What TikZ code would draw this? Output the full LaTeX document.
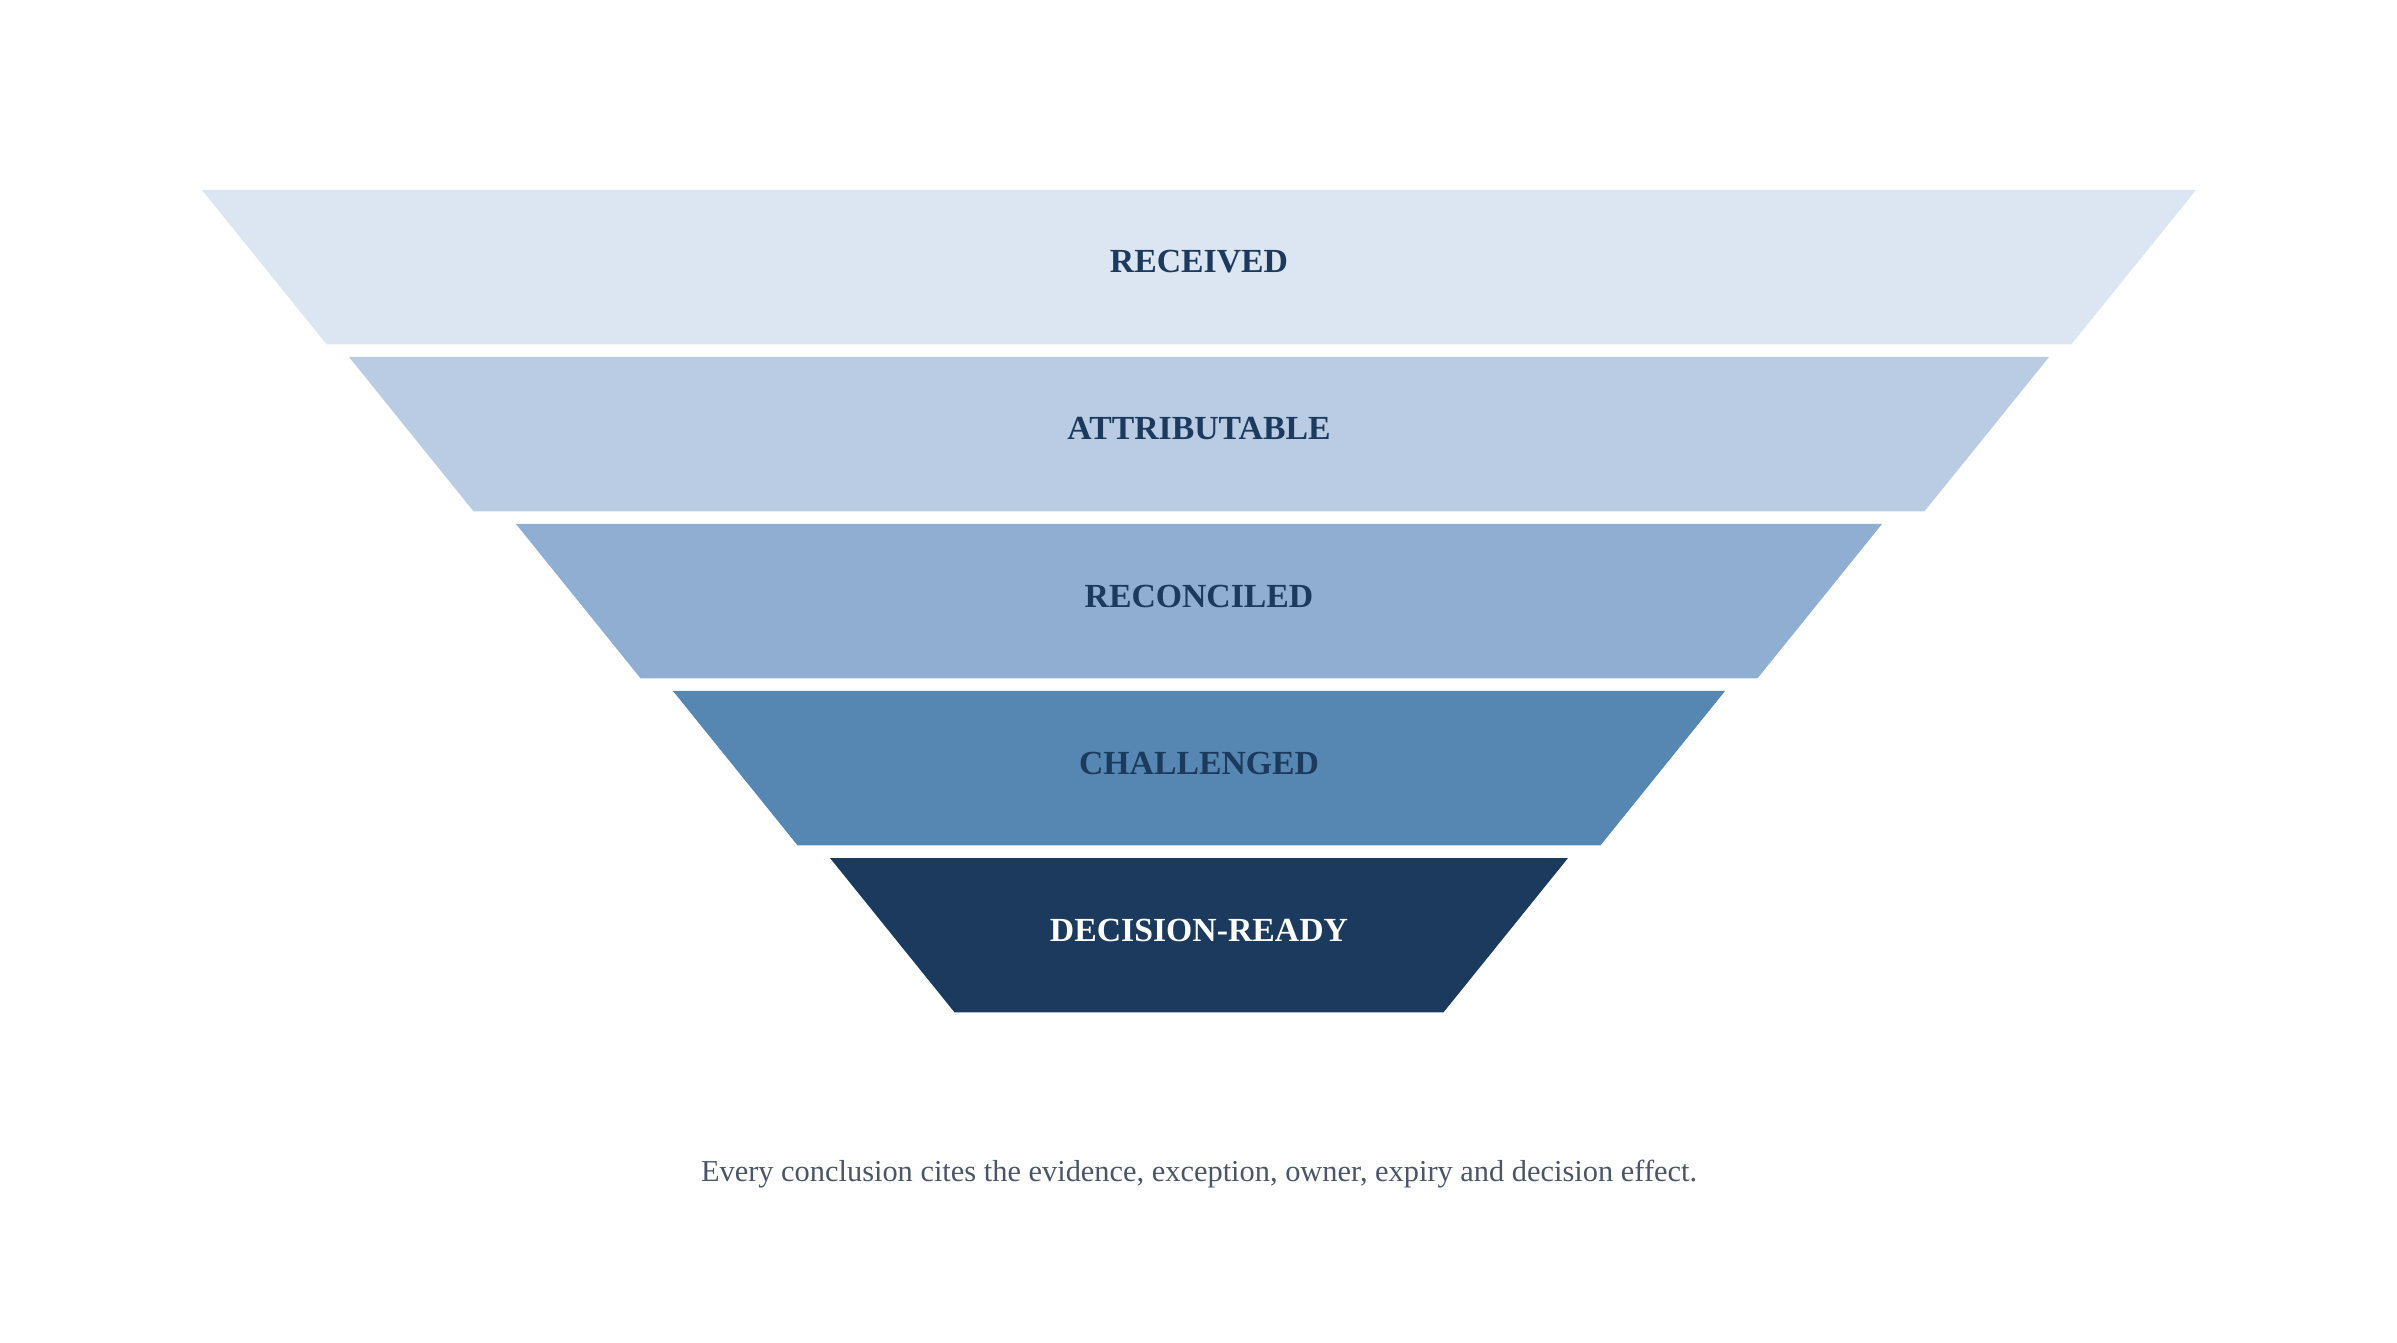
\documentclass[tikz,border=0pt]{standalone}
\usepackage{fontspec}
\setmainfont{Liberation Serif}
\usepackage{tikz}

\definecolor{bandA}{HTML}{DCE6F2}
\definecolor{bandB}{HTML}{B9CCE4}
\definecolor{bandC}{HTML}{8FAED2}
\definecolor{bandD}{HTML}{5587B2}
\definecolor{bandE}{HTML}{1B3A5E}
\definecolor{labelink}{HTML}{1B3A5E}
\definecolor{noteink}{HTML}{4A5568}

\tikzset{
  stagelabel/.style={font=\fontsize{9.6}{12}\selectfont\bfseries, text=labelink, inner sep=0pt},
  footnote/.style={font=\fontsize{8.65}{10}\selectfont, text=noteink, inner sep=0pt, anchor=base}
}

\begin{document}
\begin{tikzpicture}
    \useasboundingbox (0,0) rectangle (23.97,13.42);

    % Funnel bands, widest at the top
    \fill[bandA] (2.02,11.52) -- (21.96,11.52) -- (20.715,9.977) -- (3.265,9.977) -- cycle;
    \fill[bandB] (3.49,9.85) -- (20.49,9.85) -- (19.245,8.307) -- (4.735,8.307) -- cycle;
    \fill[bandC] (5.16,8.18) -- (18.82,8.18) -- (17.575,6.637) -- (6.405,6.637) -- cycle;
    \fill[bandD] (6.73,6.51) -- (17.25,6.51) -- (16.005,4.967) -- (7.975,4.967) -- cycle;
    \fill[bandE] (8.30,4.84) -- (15.68,4.84) -- (14.435,3.297) -- (9.545,3.297) -- cycle;

    % Stage names
    \node[stagelabel] (received) at (11.99,10.80) {RECEIVED};
    \node[stagelabel] (attributable) at (11.99,9.13) {ATTRIBUTABLE};
    \node[stagelabel] (reconciled) at (11.99,7.46) {RECONCILED};
    \node[stagelabel] (challenged) at (11.99,5.79) {CHALLENGED};
    \node[stagelabel, text=white] (ready) at (11.99,4.12) {DECISION-READY};

    % Note under the funnel
    \node[footnote] (note) at (11.99,1.61) {Every conclusion cites the evidence, exception, owner, expiry and decision effect.};
\end{tikzpicture}
\end{document}
